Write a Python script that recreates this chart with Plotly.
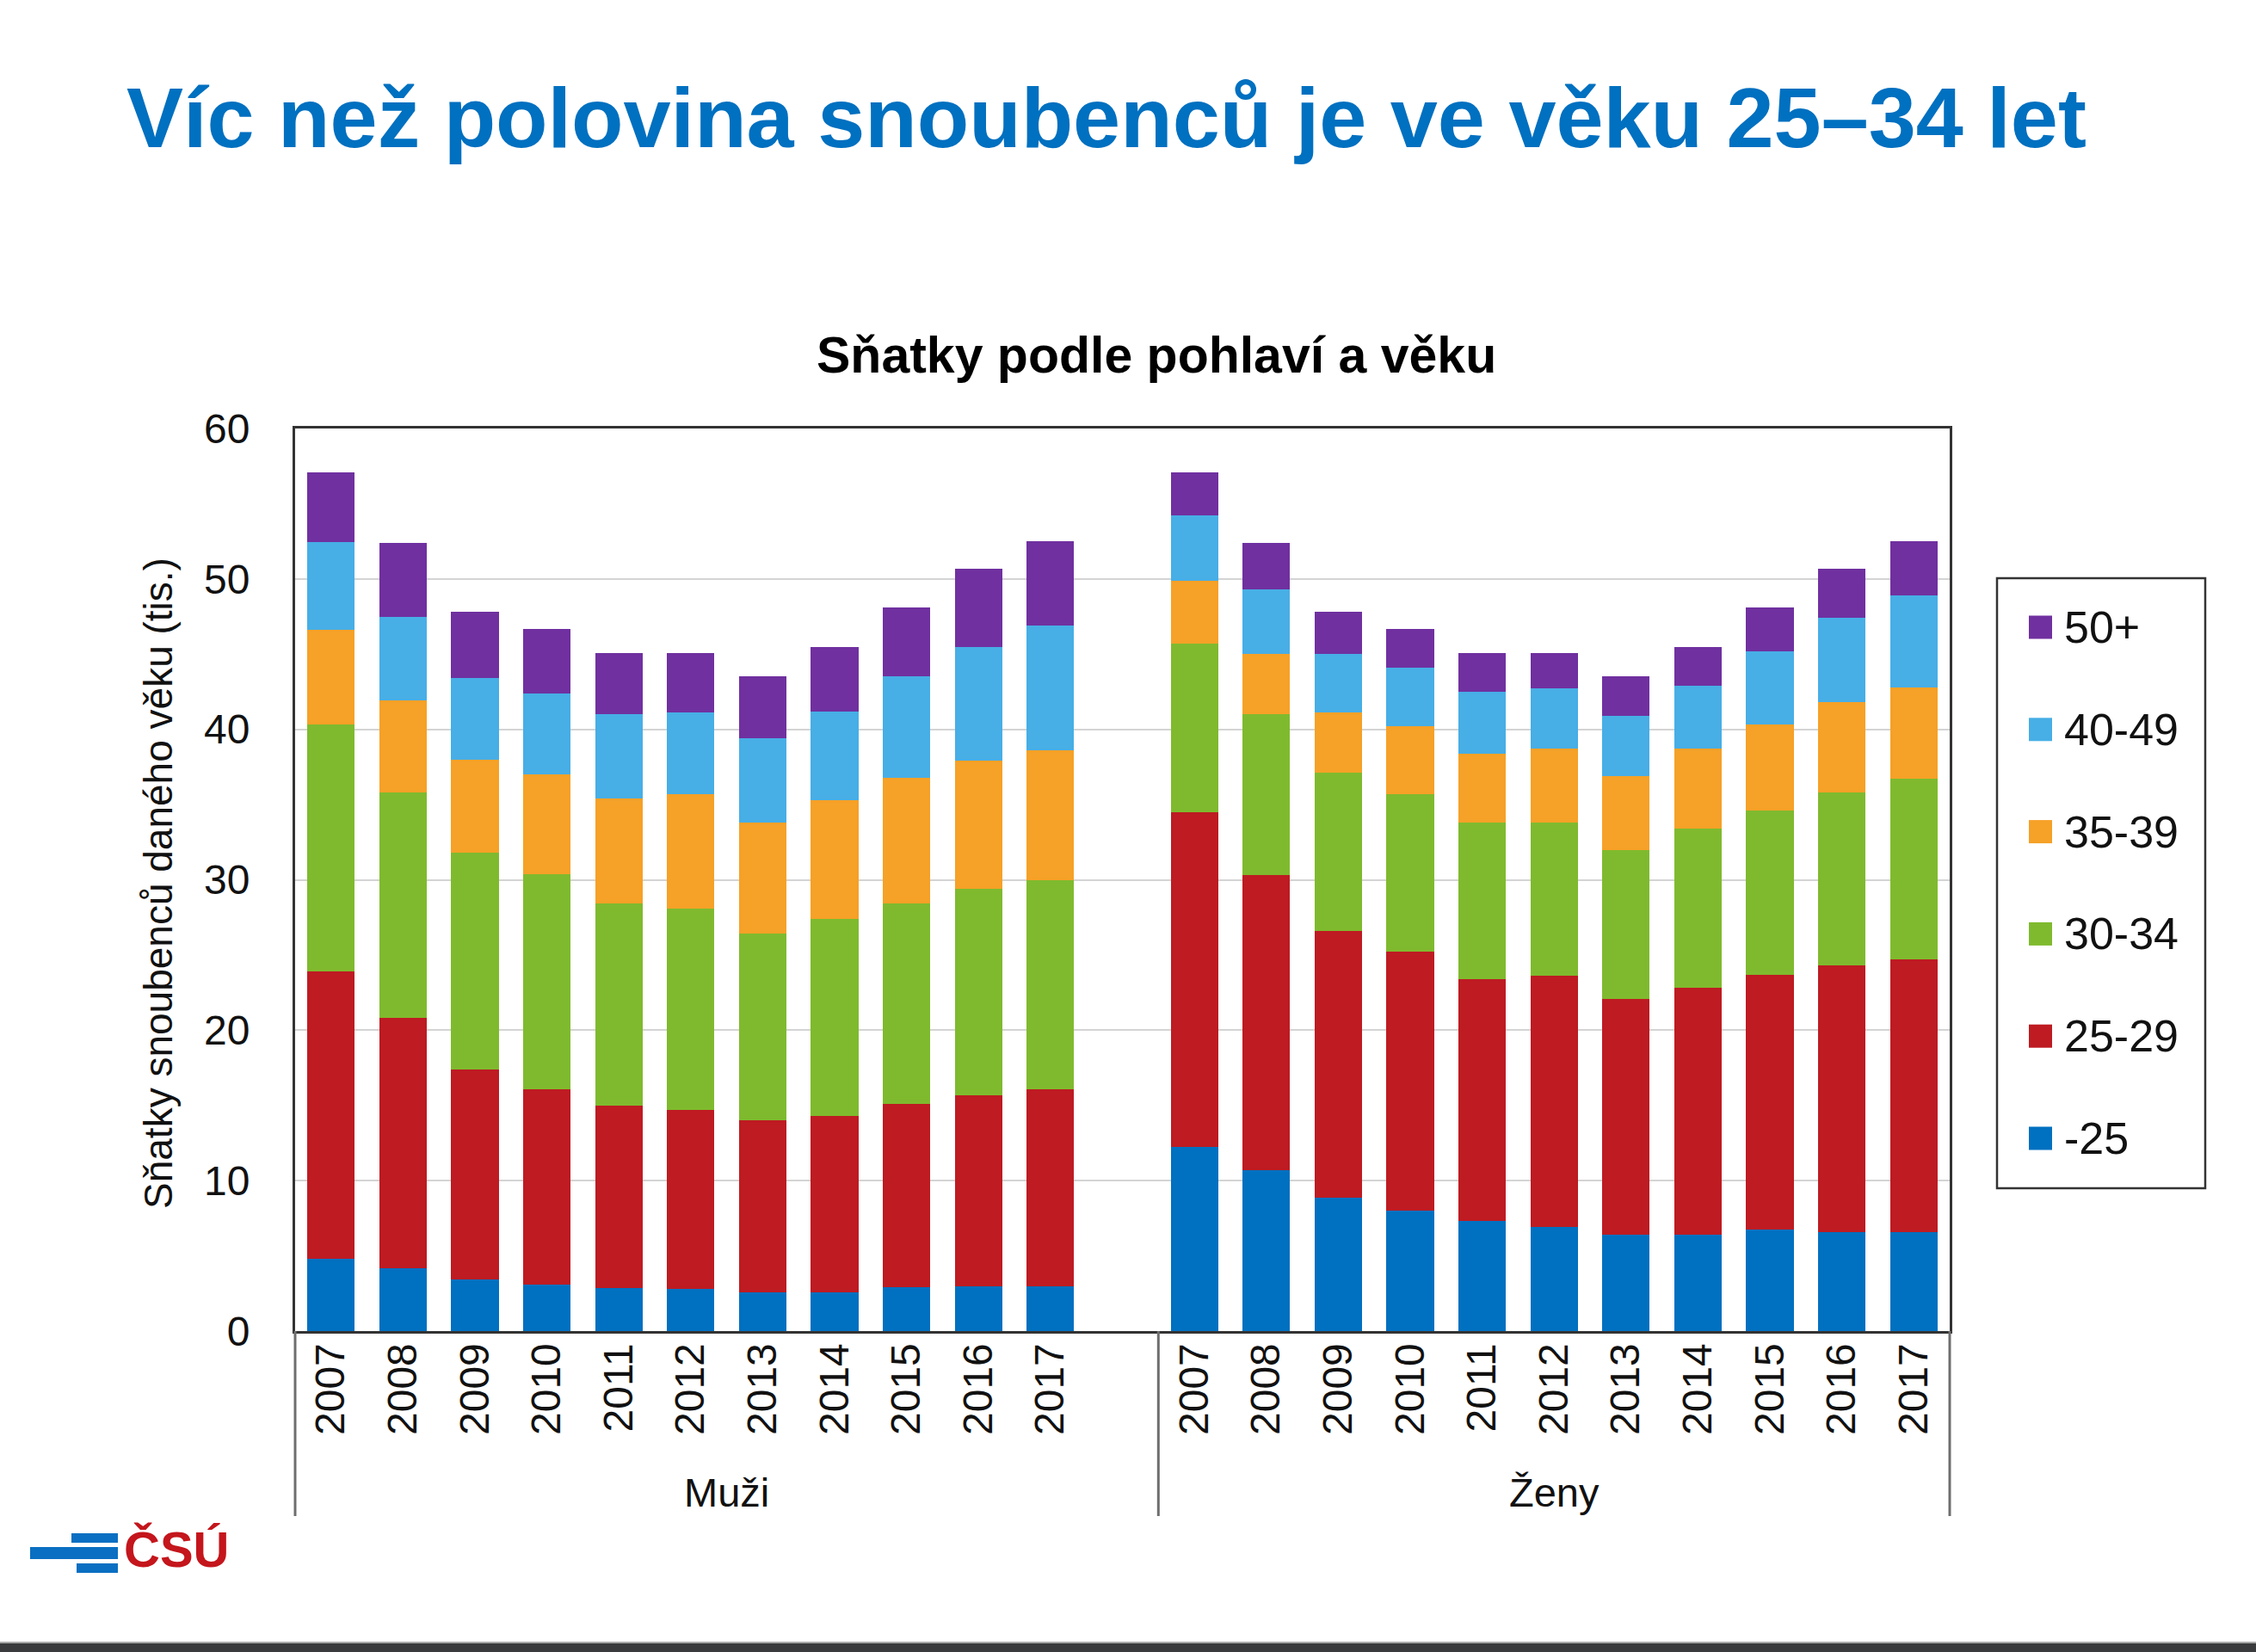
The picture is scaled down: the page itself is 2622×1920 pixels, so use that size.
import plotly.graph_objects as go

# ---------------- data ----------------
years = ["2007", "2008", "2009", "2010", "2011", "2012", "2013", "2014", "2015", "2016", "2017"]
sexes = ["Muži", "Ženy"]
age_groups = ["-25", "25-29", "30-34", "35-39", "40-49", "50+"]

# sňatky snoubenců (tis.) – muži
muzi_u25 = [4.8, 4.2, 3.45, 3.1, 2.85, 2.8, 2.6, 2.6, 2.9, 3.0, 2.95]
muzi_25_29 = [19.1, 16.6, 13.95, 13.0, 12.15, 11.9, 11.4, 11.7, 12.2, 12.7, 13.15]
muzi_30_34 = [16.4, 15.0, 14.4, 14.3, 13.4, 13.4, 12.4, 13.1, 13.3, 13.7, 13.9]
muzi_35_39 = [6.3, 6.1, 6.2, 6.6, 7.0, 7.6, 7.4, 7.9, 8.4, 8.5, 8.6]
muzi_40_49 = [5.85, 5.6, 5.4, 5.4, 5.6, 5.4, 5.6, 5.9, 6.7, 7.6, 8.3]
muzi_50p = [4.65, 4.9, 4.4, 4.3, 4.1, 4.0, 4.1, 4.3, 4.6, 5.2, 5.6]

# sňatky snoubenců (tis.) – ženy
zeny_u25 = [12.25, 10.7, 8.85, 8.0, 7.3, 6.9, 6.4, 6.4, 6.75, 6.6, 6.6]
zeny_25_29 = [22.25, 19.6, 17.75, 17.2, 16.1, 16.75, 15.7, 16.4, 16.95, 17.7, 18.1]
zeny_30_34 = [11.2, 10.7, 10.5, 10.5, 10.4, 10.15, 9.9, 10.6, 10.9, 11.5, 12.0]
zeny_35_39 = [4.2, 4.0, 4.0, 4.5, 4.6, 4.9, 4.9, 5.3, 5.7, 6.0, 6.1]
zeny_40_49 = [4.3, 4.3, 3.9, 3.9, 4.1, 4.0, 4.0, 4.2, 4.9, 5.6, 6.1]
zeny_50p = [2.9, 3.1, 2.8, 2.6, 2.6, 2.4, 2.6, 2.6, 2.9, 3.3, 3.6]

y_ticks = [0, 10, 20, 30, 40, 50, 60]

# ---------------- styling ----------------
colors = {
    "-25": "#0070C0",
    "25-29": "#BE1B22",
    "30-34": "#7FBA2E",
    "35-39": "#F6A127",
    "40-49": "#47AEE6",
    "50+": "#7030A0",
}
FONT = "Liberation Sans, Arial, sans-serif"
W, H = 2622, 1920
L, R, T, B = 343, 2266, 498, 1547  # plot area in pixels


def px(x):
    return (x - L) / (R - L)


def py(y):
    return (B - y) / (B - T)


series = {
    "-25": (muzi_u25, zeny_u25),
    "25-29": (muzi_25_29, zeny_25_29),
    "30-34": (muzi_30_34, zeny_30_34),
    "35-39": (muzi_35_39, zeny_35_39),
    "40-49": (muzi_40_49, zeny_40_49),
    "50+": (muzi_50p, zeny_50p),
}

n = len(years)
slots = 2 * n + 1  # one empty slot after the first group
muzi_x = list(range(n))
zeny_x = [i + n + 1 for i in range(n)]
x_all = muzi_x + zeny_x

fig = go.Figure()
for ag in age_groups:
    m, z = series[ag]
    fig.add_trace(go.Bar(
        x=x_all, y=m + z, name=ag,
        marker=dict(color=colors[ag], line=dict(width=0)),
        showlegend=False,
    ))

shapes = []
annotations = []

# group dividers under the category axis
for xb in [0, (n + 1) / slots, 1]:
    shapes.append(dict(type="line", xref="paper", yref="paper",
                       x0=xb, x1=xb, y0=0, y1=py(1762),
                       line=dict(color="#6E6E6E", width=3)))

# group labels
annotations.append(dict(text=sexes[0], xref="paper", yref="paper",
                        x=((n + 1) / 2) / slots, y=py(1734), xanchor="center", yanchor="middle",
                        showarrow=False, font=dict(family=FONT, size=47, color="#111")))
annotations.append(dict(text=sexes[1], xref="paper", yref="paper",
                        x=((n + 1) + n / 2) / slots, y=py(1734), xanchor="center", yanchor="middle",
                        showarrow=False, font=dict(family=FONT, size=47, color="#111")))

# main title
annotations.append(dict(text="<b>Víc než polovina snoubenců je ve věku 25–34 let</b>",
                        xref="paper", yref="paper", x=px(145), y=py(136),
                        xanchor="left", yanchor="middle", showarrow=False,
                        font=dict(family=FONT, size=99, color="#0070C0")))
# chart title
annotations.append(dict(text="<b>Sňatky podle pohlaví a věku</b>",
                        xref="paper", yref="paper", x=px(1344), y=py(413),
                        xanchor="center", yanchor="middle", showarrow=False,
                        font=dict(family=FONT, size=59, color="#000")))
# y axis title
annotations.append(dict(text="Sňatky snoubenců daného věku (tis.)",
                        xref="paper", yref="paper", x=px(184), y=py(1027),
                        xanchor="center", yanchor="middle", textangle=-90, showarrow=False,
                        font=dict(family=FONT, size=46, color="#111")))

# custom legend
shapes.append(dict(type="rect", xref="paper", yref="paper",
                   x0=px(2321), x1=px(2563), y0=py(1381), y1=py(672),
                   line=dict(color="#333", width=2.5), fillcolor="rgba(0,0,0,0)"))
leg_top, leg_step = 729, 118.8
for i, ag in enumerate(reversed(age_groups)):
    cy = leg_top + i * leg_step
    shapes.append(dict(type="rect", xref="paper", yref="paper",
                       x0=px(2358), x1=px(2385), y0=py(cy + 13.5), y1=py(cy - 13.5),
                       line=dict(width=0), fillcolor=colors[ag]))
    annotations.append(dict(text=ag, xref="paper", yref="paper", x=px(2397), y=py(cy),
                            xanchor="left", yanchor="middle", showarrow=False,
                            font=dict(family=FONT, size=52, color="#111")))

# logo ČSÚ
for (x0, x1, y0, y1) in [(83, 137, 1782, 1793), (35, 137, 1798, 1812), (89, 137, 1817, 1828)]:
    shapes.append(dict(type="rect", xref="paper", yref="paper",
                       x0=px(x0), x1=px(x1), y0=py(y1), y1=py(y0),
                       line=dict(width=0), fillcolor="#0A6FC2"))
annotations.append(dict(text="<b>ČSÚ</b>", xref="paper", yref="paper", x=px(142), y=py(1800),
                        xanchor="left", yanchor="middle", showarrow=False,
                        font=dict(family=FONT, size=58, color="#C4161C")))

# bottom dark strip
shapes.append(dict(type="rect", xref="paper", yref="paper",
                   x0=px(0), x1=px(W), y0=py(1920), y1=py(1910),
                   line=dict(width=0), fillcolor="#3A3B3D"))
shapes.append(dict(type="line", xref="paper", yref="paper",
                   x0=px(0), x1=px(W), y0=py(1909), y1=py(1909),
                   line=dict(color="#A8A8A8", width=2)))

fig.update_layout(
    width=W, height=H, autosize=False,
    margin=dict(l=L, r=W - R, t=T, b=H - B, pad=0),
    paper_bgcolor="white", plot_bgcolor="white",
    barmode="stack", bargap=0.34,
    font=dict(family=FONT, color="#111"),
    shapes=shapes, annotations=annotations,
    showlegend=False,
)
fig.update_xaxes(
    range=[-0.5, slots - 0.5],
    tickmode="array", tickvals=x_all, ticktext=years + years,
    tickangle=-90, ticks="", ticklabelstandoff=-8,
    tickfont=dict(family=FONT, size=48, color="#111"),
    showline=True, linecolor="#333", linewidth=3, mirror=True,
    showgrid=False, zeroline=False,
)
fig.update_yaxes(
    range=[0, 60], tickmode="array", tickvals=y_ticks,
    ticks="", ticklabelstandoff=40,
    tickfont=dict(family=FONT, size=48, color="#111"),
    showline=True, linecolor="#333", linewidth=3, mirror=True,
    showgrid=True, gridcolor="#D4D4D4", gridwidth=2, zeroline=False,
)

fig.write_html("out.html")
